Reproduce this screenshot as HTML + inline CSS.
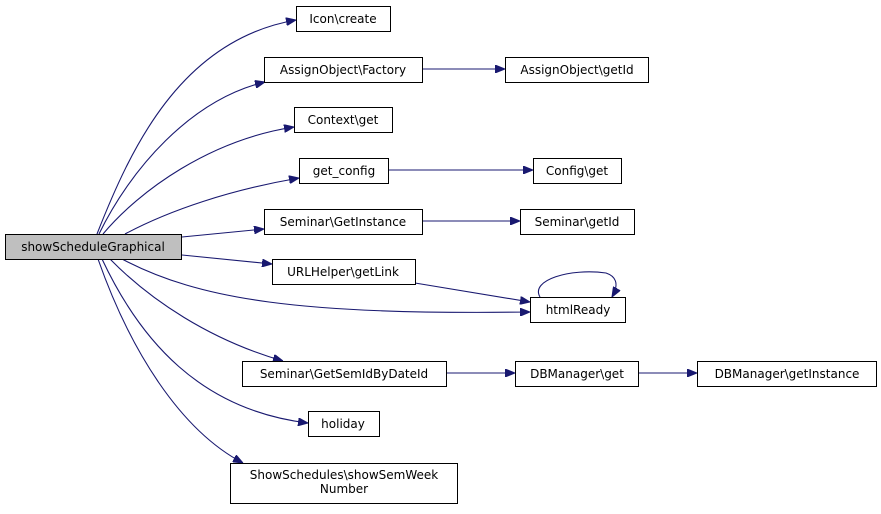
<!DOCTYPE html>
<html><head><meta charset="utf-8"><style>
html,body{margin:0;padding:0;background:#fff}
svg text{font-family:"DejaVu Sans","Liberation Sans",sans-serif;font-size:12px;fill:#000}
</style></head><body>
<svg width="881" height="509" viewBox="0 0 881 509" xmlns="http://www.w3.org/2000/svg">
<defs><marker id="a" markerWidth="10" markerHeight="8" refX="10" refY="4" orient="auto" markerUnits="userSpaceOnUse"><path d="M0,0 L10,4 L0,8 z" fill="#191970" stroke="#191970"/></marker></defs>
<g fill="none" stroke="#191970" stroke-width="1.1">
<path d="M97,234 C130,150 180,40 296,20" marker-end="url(#a)"/>
<path d="M99,234 C130,170 190,100 265,82" marker-end="url(#a)"/>
<path d="M103,234 C140,190 210,140 294,127" marker-end="url(#a)"/>
<path d="M125,234 C170,210 230,190 299,178" marker-end="url(#a)"/>
<path d="M182,237 L264,229" marker-end="url(#a)"/>
<path d="M182,255 L272,264" marker-end="url(#a)"/>
<path d="M122,259 C200,300 300,315 530,312" marker-end="url(#a)"/>
<path d="M110,259 C150,300 210,340 283,361" marker-end="url(#a)"/>
<path d="M102,259 C140,340 200,410 308,423" marker-end="url(#a)"/>
<path d="M98,259 C130,350 180,430 243,463" marker-end="url(#a)"/>
<path d="M423,69 L505,69" marker-end="url(#a)"/>
<path d="M388,170 L533,170" marker-end="url(#a)"/>
<path d="M423,221 L520,221" marker-end="url(#a)"/>
<path d="M415,283 L530,302" marker-end="url(#a)"/>
<path d="M446,373 L515,373" marker-end="url(#a)"/>
<path d="M638,373 L697,373" marker-end="url(#a)"/>
<path d="M540,297 C530,280 570,268 606,273 C615,276 620,283 612,297" marker-end="url(#a)"/>
</g>
<g stroke="#000" stroke-width="1" fill="#fff">
<rect x="5.5" y="234.5" width="176" height="25" fill="#bfbfbf"/>
<rect x="296.5" y="6.5" width="94" height="25"/>
<rect x="264.5" y="57.5" width="158" height="25"/>
<rect x="505.5" y="57.5" width="143" height="25"/>
<rect x="294.5" y="107.5" width="98" height="25"/>
<rect x="299.5" y="158.5" width="89" height="25"/>
<rect x="533.5" y="158.5" width="88" height="25"/>
<rect x="264.5" y="209.5" width="158" height="25"/>
<rect x="520.5" y="209.5" width="114" height="25"/>
<rect x="272.5" y="259.5" width="143" height="25"/>
<rect x="530.5" y="297.5" width="95" height="25"/>
<rect x="242.5" y="361.5" width="204" height="25"/>
<rect x="515.5" y="361.5" width="123" height="25"/>
<rect x="697.5" y="361.5" width="179" height="25"/>
<rect x="308.5" y="411.5" width="71" height="25"/>
<rect x="230.5" y="463.5" width="227" height="40"/>
</g>
<g text-anchor="middle">
<text x="93" y="251">showScheduleGraphical</text>
<text x="343" y="23">Icon\create</text>
<text x="343" y="74">AssignObject\Factory</text>
<text x="577" y="74">AssignObject\getId</text>
<text x="343" y="124">Context\get</text>
<text x="344" y="175">get_config</text>
<text x="577" y="175">Config\get</text>
<text x="343" y="226">Seminar\GetInstance</text>
<text x="577" y="226">Seminar\getId</text>
<text x="343" y="276">URLHelper\getLink</text>
<text x="578" y="314">htmlReady</text>
<text x="344" y="378">Seminar\GetSemIdByDateId</text>
<text x="577" y="378">DBManager\get</text>
<text x="787" y="378">DBManager\getInstance</text>
<text x="343" y="428">holiday</text>
<text x="344" y="479">ShowSchedules\showSemWeek</text>
<text x="344" y="493">Number</text>
</g>
</svg>
</body></html>
